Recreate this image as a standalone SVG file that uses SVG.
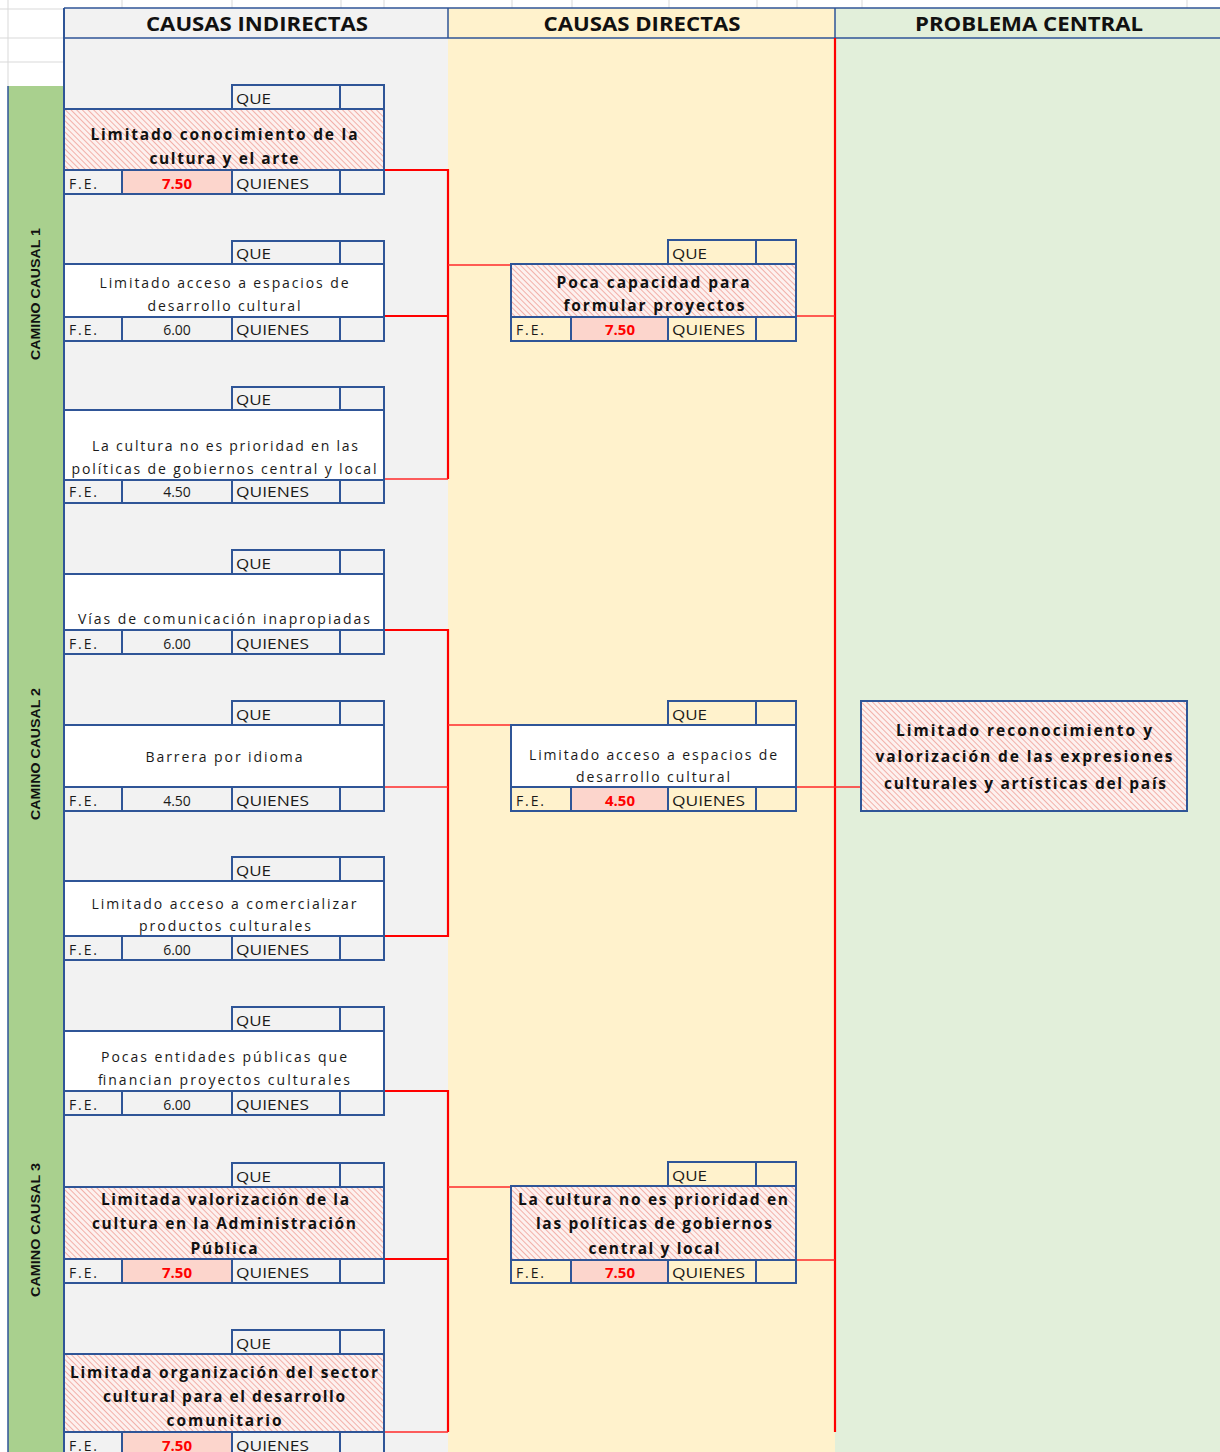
<svg xmlns="http://www.w3.org/2000/svg" width="1220" height="1452" viewBox="0 0 1220 1452">
<style>
.cell{stroke:#2f5597;stroke-width:2}
.g{fill:#f2f2f2}
.y{fill:#fff2cc}
.p{fill:#fcd5cc}
.w{fill:#ffffff}
.grid{stroke:#d9d9d9;stroke-width:1}
.lbl{font-family:"Open Sans","Liberation Sans",Arial,sans-serif;font-size:14px;fill:#1a1a1a}
.val{font-family:"Open Sans","Liberation Sans",Arial,sans-serif;font-size:14px;fill:#1a1a1a;text-anchor:middle}
.valr{font-family:"Open Sans","Liberation Sans",Arial,sans-serif;font-size:15px;font-weight:bold;fill:#ff0000;text-anchor:middle}
.t{font-family:"Open Sans","Liberation Sans",Arial,sans-serif;font-size:14px;fill:#1a1a1a;text-anchor:middle}
.tb{font-family:"Open Sans","Liberation Sans",Arial,sans-serif;font-size:15.5px;font-weight:bold;fill:#111;text-anchor:middle}
.hd{font-family:"Open Sans","Liberation Sans",Arial,sans-serif;font-size:19px;font-weight:bold;fill:#111;text-anchor:middle}
.side{font-family:"Liberation Sans",Arial,sans-serif;font-size:13px;font-weight:bold;fill:#111;text-anchor:middle}
.rt{stroke:#ff0000;stroke-width:2.2;fill:none}
.rn{stroke:#ff2a2a;stroke-width:1.5;fill:none}
</style>
<defs>
<pattern id="h" width="4" height="4" patternUnits="userSpaceOnUse" patternTransform="rotate(-45)">
<rect width="4" height="4" fill="#fdf1ef"/>
<line x1="0" y1="0" x2="0" y2="4" stroke="#f0a097" stroke-width="1.6"/>
</pattern>
</defs>

<rect x="0" y="0" width="1220" height="1452" fill="#ffffff"/>
<g id="gridlines">
<line class="grid" x1="0" y1="9" x2="64" y2="9"/>
<line class="grid" x1="0" y1="38" x2="64" y2="38"/>
<line class="grid" x1="0" y1="62" x2="64" y2="62"/>
<line class="grid" x1="8" y1="0" x2="8" y2="86"/>
<line class="grid" x1="122" y1="0" x2="122" y2="8"/>
<line class="grid" x1="232" y1="0" x2="232" y2="8"/>
<line class="grid" x1="341" y1="0" x2="341" y2="8"/>
<line class="grid" x1="384" y1="0" x2="384" y2="8"/>
<line class="grid" x1="512" y1="0" x2="512" y2="8"/>
<line class="grid" x1="572" y1="0" x2="572" y2="8"/>
<line class="grid" x1="669" y1="0" x2="669" y2="8"/>
<line class="grid" x1="757" y1="0" x2="757" y2="8"/>
<line class="grid" x1="797" y1="0" x2="797" y2="8"/>
<line class="grid" x1="862" y1="0" x2="862" y2="8"/>
<line class="grid" x1="1187" y1="0" x2="1187" y2="8"/>
</g>

<g id="columns">
<rect x="64" y="8" width="384" height="1444" fill="#f2f2f2"/>
<rect x="448" y="8" width="387" height="1444" fill="#fff2cc"/>
<rect x="835" y="8" width="385" height="1444" fill="#e2efda"/>
<rect x="8" y="86" width="56" height="1366" fill="#a9d08e"/>
<line x1="8" y1="86" x2="8" y2="1452" stroke="#2f5597" stroke-width="1.5"/>
<line x1="64" y1="8" x2="64" y2="1452" stroke="#2f5597" stroke-width="2"/>
<line x1="64" y1="8" x2="1220" y2="8" stroke="#2f5597" stroke-width="1.5"/>
<line x1="64" y1="38" x2="1220" y2="38" stroke="#2f5597" stroke-width="1.5"/>
<line x1="448" y1="8" x2="448" y2="38" stroke="#2f5597" stroke-width="1.5"/>
<line x1="835" y1="8" x2="835" y2="38" stroke="#2f5597" stroke-width="1.5"/>
<text class="hd" x="257" y="31" textLength="222" lengthAdjust="spacingAndGlyphs">CAUSAS INDIRECTAS</text>
<text class="hd" x="642" y="31" textLength="197" lengthAdjust="spacingAndGlyphs">CAUSAS DIRECTAS</text>
<text class="hd" x="1029" y="31" textLength="228" lengthAdjust="spacingAndGlyphs">PROBLEMA CENTRAL</text>
<text class="side" transform="translate(40,294) rotate(-90)" textLength="132" lengthAdjust="spacingAndGlyphs">CAMINO CAUSAL 1</text>
<text class="side" transform="translate(40,754) rotate(-90)" textLength="132" lengthAdjust="spacingAndGlyphs">CAMINO CAUSAL 2</text>
<text class="side" transform="translate(40,1230) rotate(-90)" textLength="134" lengthAdjust="spacingAndGlyphs">CAMINO CAUSAL 3</text>
</g>

<g id="connectors">
<line class="rt" x1="835" y1="38" x2="835" y2="1432"/>
<path class="rt" d="M384 170 H448 V479"/>
<path class="rt" d="M384 316 H448"/>
<path class="rn" d="M384 479 H448"/>
<path class="rn" d="M448 265 H511"/>
<path class="rn" d="M796 316 H835"/>
<path class="rt" d="M384 630 H448 V936 H384"/>
<path class="rn" d="M384 787 H448"/>
<path class="rn" d="M448 725 H511"/>
<path class="rn" d="M796 787 H861"/>
<path class="rt" d="M384 1091 H448 V1432"/>
<path class="rt" d="M384 1259 H448"/>
<path class="rn" d="M384 1432 H448"/>
<path class="rn" d="M448 1187 H511"/>
<path class="rn" d="M796 1260 H835"/>
</g>

<g id="ci1">
<rect class="cell g" x="232" y="85" width="108" height="24"/><rect class="cell g" x="340" y="85" width="44" height="24"/>
<rect class="cell" fill="url(#h)" x="64" y="109" width="320" height="61"/>
<rect class="cell g" x="64" y="170" width="58" height="24"/><rect class="cell p" x="122" y="170" width="110" height="24"/><rect class="cell g" x="232" y="170" width="108" height="24"/><rect class="cell g" x="340" y="170" width="44" height="24"/>
<text class="lbl" x="236" y="104" textLength="35" lengthAdjust="spacingAndGlyphs">QUE</text>
<text class="tb" x="224" y="140" textLength="267" lengthAdjust="spacing">Limitado conocimiento de la</text>
<text class="tb" x="224" y="164" textLength="149" lengthAdjust="spacing">cultura y el arte</text>
<text class="lbl" x="69" y="189" textLength="28" lengthAdjust="spacing">F.E.</text><text class="valr" x="177" y="189">7.50</text><text class="lbl" x="236" y="189" textLength="73" lengthAdjust="spacingAndGlyphs">QUIENES</text>
</g>

<g id="ci2">
<rect class="cell g" x="232" y="241" width="108" height="23"/><rect class="cell g" x="340" y="241" width="44" height="23"/>
<rect class="cell w" x="64" y="264" width="320" height="53"/>
<rect class="cell g" x="64" y="317" width="58" height="24"/><rect class="cell g" x="122" y="317" width="110" height="24"/><rect class="cell g" x="232" y="317" width="108" height="24"/><rect class="cell g" x="340" y="317" width="44" height="24"/>
<text class="lbl" x="236" y="259" textLength="35" lengthAdjust="spacingAndGlyphs">QUE</text>
<text class="t" x="224" y="288" textLength="249" lengthAdjust="spacing">Limitado acceso a espacios de</text>
<text class="t" x="224" y="311" textLength="153" lengthAdjust="spacing">desarrollo cultural</text>
<text class="lbl" x="69" y="335" textLength="28" lengthAdjust="spacing">F.E.</text><text class="val" x="177" y="335">6.00</text><text class="lbl" x="236" y="335" textLength="73" lengthAdjust="spacingAndGlyphs">QUIENES</text>
</g>

<g id="ci3">
<rect class="cell g" x="232" y="387" width="108" height="23"/><rect class="cell g" x="340" y="387" width="44" height="23"/>
<rect class="cell w" x="64" y="410" width="320" height="70"/>
<rect class="cell g" x="64" y="480" width="58" height="23"/><rect class="cell g" x="122" y="480" width="110" height="23"/><rect class="cell g" x="232" y="480" width="108" height="23"/><rect class="cell g" x="340" y="480" width="44" height="23"/>
<text class="lbl" x="236" y="405" textLength="35" lengthAdjust="spacingAndGlyphs">QUE</text>
<text class="t" x="225" y="451" textLength="266" lengthAdjust="spacing">La cultura no es prioridad en las</text>
<text class="t" x="224" y="474" textLength="305" lengthAdjust="spacing">políticas de gobiernos central y local</text>
<text class="lbl" x="69" y="497" textLength="28" lengthAdjust="spacing">F.E.</text><text class="val" x="177" y="497">4.50</text><text class="lbl" x="236" y="497" textLength="73" lengthAdjust="spacingAndGlyphs">QUIENES</text>
</g>

<g id="ci4">
<rect class="cell g" x="232" y="550" width="108" height="24"/><rect class="cell g" x="340" y="550" width="44" height="24"/>
<rect class="cell w" x="64" y="574" width="320" height="56"/>
<rect class="cell g" x="64" y="630" width="58" height="24"/><rect class="cell g" x="122" y="630" width="110" height="24"/><rect class="cell g" x="232" y="630" width="108" height="24"/><rect class="cell g" x="340" y="630" width="44" height="24"/>
<text class="lbl" x="236" y="569" textLength="35" lengthAdjust="spacingAndGlyphs">QUE</text>
<text class="t" x="224" y="624" textLength="292" lengthAdjust="spacing">Vías de comunicación inapropiadas</text>
<text class="lbl" x="69" y="649" textLength="28" lengthAdjust="spacing">F.E.</text><text class="val" x="177" y="649">6.00</text><text class="lbl" x="236" y="649" textLength="73" lengthAdjust="spacingAndGlyphs">QUIENES</text>
</g>

<g id="ci5">
<rect class="cell g" x="232" y="701" width="108" height="24"/><rect class="cell g" x="340" y="701" width="44" height="24"/>
<rect class="cell w" x="64" y="725" width="320" height="62"/>
<rect class="cell g" x="64" y="787" width="58" height="24"/><rect class="cell g" x="122" y="787" width="110" height="24"/><rect class="cell g" x="232" y="787" width="108" height="24"/><rect class="cell g" x="340" y="787" width="44" height="24"/>
<text class="lbl" x="236" y="720" textLength="35" lengthAdjust="spacingAndGlyphs">QUE</text>
<text class="t" x="224" y="762" textLength="157" lengthAdjust="spacing">Barrera por idioma</text>
<text class="lbl" x="69" y="806" textLength="28" lengthAdjust="spacing">F.E.</text><text class="val" x="177" y="806">4.50</text><text class="lbl" x="236" y="806" textLength="73" lengthAdjust="spacingAndGlyphs">QUIENES</text>
</g>

<g id="ci6">
<rect class="cell g" x="232" y="857" width="108" height="24"/><rect class="cell g" x="340" y="857" width="44" height="24"/>
<rect class="cell w" x="64" y="881" width="320" height="55"/>
<rect class="cell g" x="64" y="936" width="58" height="24"/><rect class="cell g" x="122" y="936" width="110" height="24"/><rect class="cell g" x="232" y="936" width="108" height="24"/><rect class="cell g" x="340" y="936" width="44" height="24"/>
<text class="lbl" x="236" y="876" textLength="35" lengthAdjust="spacingAndGlyphs">QUE</text>
<text class="t" x="224" y="909" textLength="265" lengthAdjust="spacing">Limitado acceso a comercializar</text>
<text class="t" x="225" y="931" textLength="172" lengthAdjust="spacing">productos culturales</text>
<text class="lbl" x="69" y="955" textLength="28" lengthAdjust="spacing">F.E.</text><text class="val" x="177" y="955">6.00</text><text class="lbl" x="236" y="955" textLength="73" lengthAdjust="spacingAndGlyphs">QUIENES</text>
</g>

<g id="ci7">
<rect class="cell g" x="232" y="1007" width="108" height="24"/><rect class="cell g" x="340" y="1007" width="44" height="24"/>
<rect class="cell w" x="64" y="1031" width="320" height="60"/>
<rect class="cell g" x="64" y="1091" width="58" height="24"/><rect class="cell g" x="122" y="1091" width="110" height="24"/><rect class="cell g" x="232" y="1091" width="108" height="24"/><rect class="cell g" x="340" y="1091" width="44" height="24"/>
<text class="lbl" x="236" y="1026" textLength="35" lengthAdjust="spacingAndGlyphs">QUE</text>
<text class="t" x="224" y="1062" textLength="246" lengthAdjust="spacing">Pocas entidades públicas que</text>
<text class="t" x="224" y="1085" textLength="252" lengthAdjust="spacing">financian proyectos culturales</text>
<text class="lbl" x="69" y="1110" textLength="28" lengthAdjust="spacing">F.E.</text><text class="val" x="177" y="1110">6.00</text><text class="lbl" x="236" y="1110" textLength="73" lengthAdjust="spacingAndGlyphs">QUIENES</text>
</g>

<g id="ci8">
<rect class="cell g" x="232" y="1163" width="108" height="24"/><rect class="cell g" x="340" y="1163" width="44" height="24"/>
<rect class="cell" fill="url(#h)" x="64" y="1187" width="320" height="72"/>
<rect class="cell g" x="64" y="1259" width="58" height="24"/><rect class="cell p" x="122" y="1259" width="110" height="24"/><rect class="cell g" x="232" y="1259" width="108" height="24"/><rect class="cell g" x="340" y="1259" width="44" height="24"/>
<text class="lbl" x="236" y="1182" textLength="35" lengthAdjust="spacingAndGlyphs">QUE</text>
<text class="tb" x="225" y="1205" textLength="248" lengthAdjust="spacing">Limitada valorización de la</text>
<text class="tb" x="224" y="1229" textLength="264" lengthAdjust="spacing">cultura en la Administración</text>
<text class="tb" x="224" y="1254" textLength="67" lengthAdjust="spacing">Pública</text>
<text class="lbl" x="69" y="1278" textLength="28" lengthAdjust="spacing">F.E.</text><text class="valr" x="177" y="1278">7.50</text><text class="lbl" x="236" y="1278" textLength="73" lengthAdjust="spacingAndGlyphs">QUIENES</text>
</g>

<g id="ci9">
<rect class="cell g" x="232" y="1330" width="108" height="24"/><rect class="cell g" x="340" y="1330" width="44" height="24"/>
<rect class="cell" fill="url(#h)" x="64" y="1354" width="320" height="78"/>
<rect class="cell g" x="64" y="1432" width="58" height="24"/><rect class="cell p" x="122" y="1432" width="110" height="24"/><rect class="cell g" x="232" y="1432" width="108" height="24"/><rect class="cell g" x="340" y="1432" width="44" height="24"/>
<text class="lbl" x="236" y="1349" textLength="35" lengthAdjust="spacingAndGlyphs">QUE</text>
<text class="tb" x="224" y="1378" textLength="308" lengthAdjust="spacing">Limitada organización  del sector</text>
<text class="tb" x="224" y="1402" textLength="242" lengthAdjust="spacing">cultural para el desarrollo</text>
<text class="tb" x="224" y="1426" textLength="115" lengthAdjust="spacing">comunitario</text>
<text class="lbl" x="69" y="1451" textLength="28" lengthAdjust="spacing">F.E.</text><text class="valr" x="177" y="1451">7.50</text><text class="lbl" x="236" y="1451" textLength="73" lengthAdjust="spacingAndGlyphs">QUIENES</text>
</g>

<g id="cd1">
<rect class="cell y" x="668" y="240" width="88" height="24"/><rect class="cell y" x="756" y="240" width="40" height="24"/>
<rect class="cell" fill="url(#h)" x="511" y="264" width="285" height="53"/>
<rect class="cell y" x="511" y="317" width="60" height="24"/><rect class="cell p" x="571" y="317" width="97" height="24"/><rect class="cell y" x="668" y="317" width="88" height="24"/><rect class="cell y" x="756" y="317" width="40" height="24"/>
<text class="lbl" x="672" y="259" textLength="35" lengthAdjust="spacingAndGlyphs">QUE</text>
<text class="tb" x="653" y="288" textLength="193" lengthAdjust="spacing">Poca capacidad para</text>
<text class="tb" x="654" y="311" textLength="181" lengthAdjust="spacing">formular proyectos</text>
<text class="lbl" x="516" y="335" textLength="28" lengthAdjust="spacing">F.E.</text><text class="valr" x="620" y="335">7.50</text><text class="lbl" x="672" y="335" textLength="73" lengthAdjust="spacingAndGlyphs">QUIENES</text>
</g>

<g id="cd2">
<rect class="cell y" x="668" y="701" width="88" height="24"/><rect class="cell y" x="756" y="701" width="40" height="24"/>
<rect class="cell w" x="511" y="725" width="285" height="62"/>
<rect class="cell y" x="511" y="787" width="60" height="24"/><rect class="cell p" x="571" y="787" width="97" height="24"/><rect class="cell y" x="668" y="787" width="88" height="24"/><rect class="cell y" x="756" y="787" width="40" height="24"/>
<text class="lbl" x="672" y="720" textLength="35" lengthAdjust="spacingAndGlyphs">QUE</text>
<text class="t" x="653" y="760" textLength="248" lengthAdjust="spacing">Limitado acceso a espacios de</text>
<text class="t" x="653" y="782" textLength="154" lengthAdjust="spacing">desarrollo cultural</text>
<text class="lbl" x="516" y="806" textLength="28" lengthAdjust="spacing">F.E.</text><text class="valr" x="620" y="806">4.50</text><text class="lbl" x="672" y="806" textLength="73" lengthAdjust="spacingAndGlyphs">QUIENES</text>
</g>

<g id="cd3">
<rect class="cell y" x="668" y="1162" width="88" height="24"/><rect class="cell y" x="756" y="1162" width="40" height="24"/>
<rect class="cell" fill="url(#h)" x="511" y="1186" width="285" height="74"/>
<rect class="cell y" x="511" y="1260" width="60" height="23"/><rect class="cell p" x="571" y="1260" width="97" height="23"/><rect class="cell y" x="668" y="1260" width="88" height="23"/><rect class="cell y" x="756" y="1260" width="40" height="23"/>
<text class="lbl" x="672" y="1181" textLength="35" lengthAdjust="spacingAndGlyphs">QUE</text>
<text class="tb" x="653" y="1205" textLength="270" lengthAdjust="spacing">La cultura no es prioridad en</text>
<text class="tb" x="654" y="1229" textLength="236" lengthAdjust="spacing">las políticas de gobiernos</text>
<text class="tb" x="654" y="1254" textLength="131" lengthAdjust="spacing">central y local</text>
<text class="lbl" x="516" y="1278" textLength="28" lengthAdjust="spacing">F.E.</text><text class="valr" x="620" y="1278">7.50</text><text class="lbl" x="672" y="1278" textLength="73" lengthAdjust="spacingAndGlyphs">QUIENES</text>
</g>

<g id="pc">
<rect class="cell" fill="url(#h)" x="861" y="701" width="326" height="110"/>
<text class="tb" x="1024" y="736" textLength="256" lengthAdjust="spacing">Limitado reconocimiento y</text>
<text class="tb" x="1024" y="762" textLength="297" lengthAdjust="spacing">valorización de las expresiones</text>
<text class="tb" x="1025" y="789" textLength="282" lengthAdjust="spacing">culturales y artísticas del país</text>
</g>
</svg>
